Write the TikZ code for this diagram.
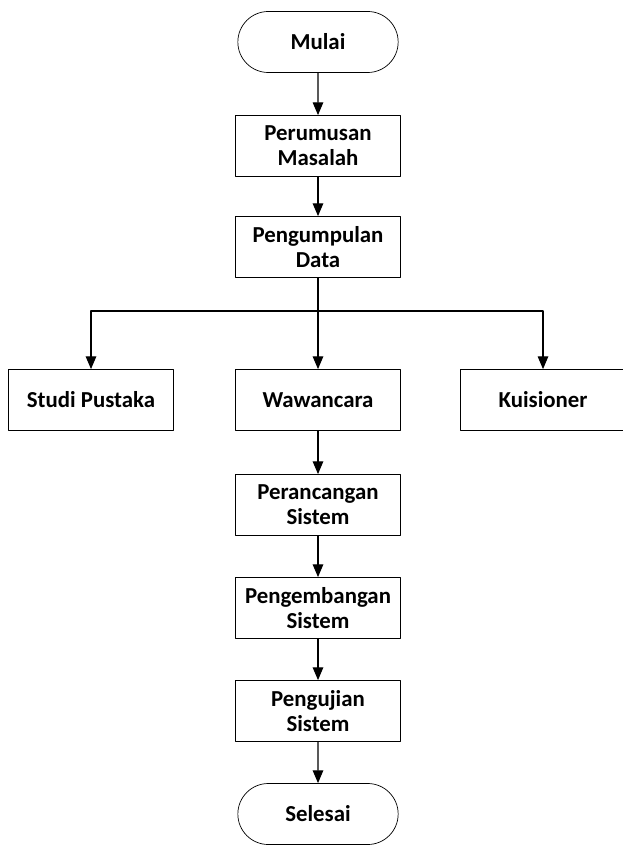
\documentclass[tikz,border=0pt]{standalone}
\usepackage{fontspec}
\setmainfont{Carlito}
\usetikzlibrary{arrows.meta,shapes.misc}
\tikzset{
  proses/.style={draw, line width=0.6pt, minimum width=4.95cm, minimum height=1.83cm, inner sep=2pt, align=center, font=\bfseries\fontsize{19.5}{21.5}\selectfont},
  terminal/.style={proses, rounded rectangle},
  panah/.style={-{Triangle[length=11pt,width=9pt]}, line width=1.2pt}
}
\begin{document}
\begin{tikzpicture}[x=0.03cm, y=-0.03cm, line join=round]
			\useasboundingbox (0,0) rectangle (622,852);
			\node[terminal] (mulai) at (318,42) {Mulai};
			\node[proses] (rumusan) at (318,146) {Perumusan\\Masalah};
			\node[proses] (kumpul) at (318,247) {Pengumpulan\\Data};
			\node[proses] (studi) at (91,400) {Studi Pustaka};
			\node[proses] (wawancara) at (318,400) {Wawancara};
			\node[proses] (kuisioner) at (543,400) {Kuisioner};
			\node[proses] (rancang) at (318,505) {Perancangan\\Sistem};
			\node[proses] (kembang) at (318,608) {Pengembangan\\Sistem};
			\node[proses] (uji) at (318,711) {Pengujian\\Sistem};
			\node[terminal] (selesai) at (318,814) {Selesai};
			\coordinate (cabang) at (318,311);
			\draw[panah] (mulai)--(rumusan);
			\draw[panah] (rumusan)--(kumpul);
			\draw[panah] (kumpul)--(wawancara);
			\draw[panah] (cabang)-|(studi);
			\draw[panah] (cabang)-|(kuisioner);
			\draw[panah] (wawancara)--(rancang);
			\draw[panah] (rancang)--(kembang);
			\draw[panah] (kembang)--(uji);
			\draw[panah] (uji)--(selesai);
		\end{tikzpicture}
\end{document}
